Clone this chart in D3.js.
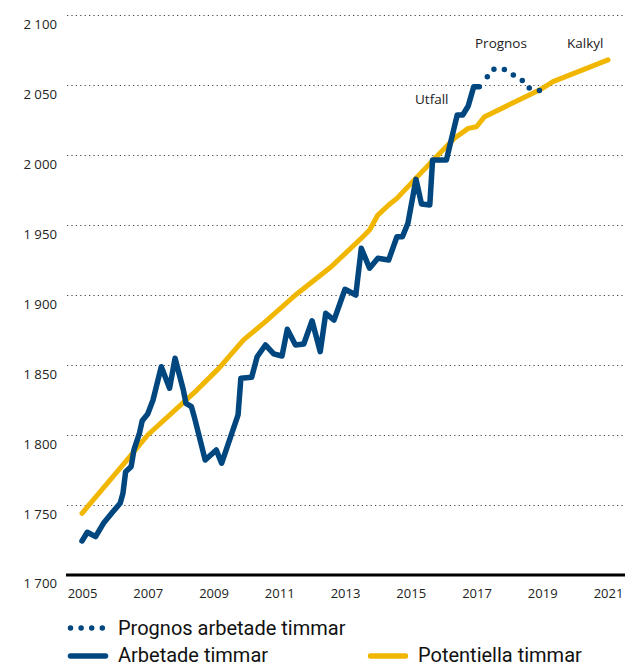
<!DOCTYPE html>
<html lang="sv">

<head>
    <meta charset="UTF-8">
    <title>arbetade-timmar</title>
    <script src="https://cdn.jsdelivr.net/npm/d3@7"></script>
</head>

<body style="margin:0; background:#fff;">
    <svg width="625" height="666" id="mainsvg" style="display:block;"></svg>
    <script>
        // --- data ---
        const arbetadeDatum = ["2005-01", "2005-03", "2005-06", "2005-09", "2005-12", "2006-03", "2006-04", "2006-05",
            "2006-07", "2006-08", "2006-10", "2006-11", "2007-01", "2007-03", "2007-06", "2007-09", "2007-11", "2008-02",
            "2008-03", "2008-05", "2008-06", "2008-10", "2009-02", "2009-04", "2009-10", "2009-11", "2010-03", "2010-05",
            "2010-08", "2010-11", "2011-02", "2011-04", "2011-07", "2011-10", "2012-01", "2012-04", "2012-06", "2012-09",
            "2013-01", "2013-05", "2013-07", "2013-10", "2014-01", "2014-05", "2014-08", "2014-10", "2014-12", "2015-03",
            "2015-05", "2015-08", "2015-09", "2016-02", "2016-06", "2016-08", "2016-10", "2016-12", "2017-02"]
        const arbetadeTimmar = [1724.3, 1730.5, 1727.4, 1737.4, 1744.5, 1751.2, 1758.4, 1773.8,
            1777.4, 1789.3, 1801.2, 1810.2, 1815.0, 1825.0, 1848.8, 1833.4, 1854.8, 1832.1,
            1822.6, 1820.2, 1813.1, 1782.1, 1789.3, 1779.8, 1814.3, 1840.5, 1841.2, 1855.9,
            1864.3, 1857.9, 1856.4, 1875.5, 1864.3, 1865.0, 1881.6, 1859.5, 1886.9, 1882.1,
            1904.1, 1900.0, 1933.4, 1919.1, 1926.2, 1925.0, 1941.6, 1941.6, 1951.2, 1982.6,
            1965.0, 1964.3, 1996.4, 1996.4, 2028.6, 2028.6, 2035.0, 2048.8, 2048.8]

        const prognosDatum = ["2017-05", "2017-07", "2017-11", "2018-06", "2018-08", "2018-12"]
        const prognosTimmar = [2055.9, 2061.3, 2061.3, 2053.0, 2048.0, 2046.0]

        const potentiellaDatum = ["2005-01", "2006-05", "2007-01", "2008-07", "2009-03", "2009-12", "2010-08", "2011-07",
            "2012-08", "2013-07", "2013-10", "2014-01", "2014-05", "2014-08", "2015-09", "2016-05", "2016-10", "2017-01",
            "2017-04", "2018-02", "2018-12", "2019-05", "2021-01"]
        const potentiellaTimmar = [1744.1, 1780.9, 1800.0, 1832.1, 1847.6, 1867.9, 1881.0, 1900.0,
            1920.2, 1940.5, 1946.4, 1957.1, 1964.3, 1969.0, 1996.0, 2011.9, 2019.0, 2020.2,
            2027.4, 2036.9, 2046.4, 2052.4, 2067.9]

        const yTicks = [1700, 1750, 1800, 1850, 1900, 1950, 2000, 2050, 2100]
        const xTickYears = [2005, 2007, 2009, 2011, 2013, 2015, 2017, 2019, 2021]

        const blue = '#00467f'
        const yellow = '#f1b600'

        const svg = d3.select('#mainsvg')
        const parse = d3.timeParse('%Y-%m')
        const zip = (dates, vals) => dates.map((d, i) => ({ date: parse(d), value: vals[i] }))

        const arbetade = zip(arbetadeDatum, arbetadeTimmar)
        const prognos = zip(prognosDatum, prognosTimmar)
        const potentiella = zip(potentiellaDatum, potentiellaTimmar)

        const xScale = d3.scaleTime()
            .domain([new Date(2005, 0, 1), new Date(2021, 0, 1)])
            .range([82, 608])
        const yScale = d3.scaleLinear()
            .domain([1700, 2100])
            .range([575, 15])

        const fmt = d3.formatLocale({ decimal: ',', thousands: '\u00a0', grouping: [3], currency: ['', ' kr'] }).format(',d')
        const numFont = '"Open Sans", Lato, sans-serif'

        // y axis with dotted grid lines
        const yAxis = d3.axisLeft(yScale).tickValues(yTicks.slice(1)).tickFormat(fmt)
            .tickSize(-(625 - 67)).tickPadding(10)
        const gy = svg.append('g').attr('transform', 'translate(67,0)').call(yAxis)
        gy.select('.domain').remove()
        gy.selectAll('.tick line').attr('stroke', '#444').attr('stroke-width', 1.1).attr('stroke-dasharray', '1.2,3.2')
        // bottom label 1 700 (no grid line, baseline instead)
        gy.append('g').attr('class', 'tick').attr('transform', `translate(0,${yScale(1700)})`)
            .append('text').attr('x', -10).text(fmt(1700))
        gy.selectAll('.tick text')
            .attr('fill', '#222').attr('font-size', 13.2).attr('font-family', numFont)
            .attr('text-anchor', 'end').attr('dy', '1.0em')

        // x axis labels
        const xAxis = d3.axisBottom(xScale).tickValues(xTickYears.map(y => new Date(y, 0, 1)))
            .tickFormat(d3.timeFormat('%Y')).tickSize(0).tickPadding(14)
        const gx = svg.append('g').attr('transform', `translate(0,${yScale(1700)})`).call(xAxis)
        gx.select('.domain').remove()
        gx.selectAll('.tick text')
            .attr('fill', '#222').attr('font-size', 13).attr('font-family', numFont)

        // baseline
        svg.append('line').attr('x1', 66).attr('x2', 625)
            .attr('y1', yScale(1700)).attr('y2', yScale(1700))
            .attr('stroke', '#000').attr('stroke-width', 3)

        const line = d3.line().x(d => xScale(d.date)).y(d => yScale(d.value))

        svg.append('path').datum(potentiella).attr('d', line)
            .attr('fill', 'none').attr('stroke', yellow).attr('stroke-width', 5)
            .attr('stroke-linecap', 'round').attr('stroke-linejoin', 'round')

        svg.append('path').datum(arbetade).attr('d', line)
            .attr('fill', 'none').attr('stroke', blue).attr('stroke-width', 5.5)
            .attr('stroke-linecap', 'round').attr('stroke-linejoin', 'round')

        // dotted forecast: spread the dots so one sits at each end
        const prog = svg.append('path').datum(prognos).attr('d', line)
            .attr('fill', 'none').attr('stroke', blue).attr('stroke-width', 5.5)
            .attr('stroke-linecap', 'round')
        const len = prog.node().getTotalLength()
        const step = len / Math.round(len / 10.6)
        prog.attr('stroke-dasharray', `0,${step}`)

        // annotations
        const note = (x, y, t) => svg.append('text').attr('x', x).attr('y', y).text(t)
            .attr('fill', '#222').attr('font-size', 13.5).attr('font-family', '"Open Sans", sans-serif')
        note(415, 104, 'Utfall')
        note(475, 48, 'Prognos')
        note(567, 48, 'Kalkyl')

        // legend
        const lg = svg.append('g').attr('font-family', 'Roboto, sans-serif').attr('font-size', 20).attr('fill', '#111')
        lg.append('path').attr('d', 'M70.5,628 H102.3').attr('stroke', blue).attr('stroke-width', 5.5)
            .attr('stroke-linecap', 'round').attr('stroke-dasharray', '0,10.6')
        lg.append('text').attr('x', 118).attr('y', 634.5).text('Prognos arbetade timmar')
        lg.append('line').attr('x1', 70.5).attr('x2', 105.5).attr('y1', 656).attr('y2', 656)
            .attr('stroke', blue).attr('stroke-width', 5.5).attr('stroke-linecap', 'round')
        lg.append('text').attr('x', 118).attr('y', 662).text('Arbetade timmar')
        lg.append('line').attr('x1', 370.5).attr('x2', 405.5).attr('y1', 656).attr('y2', 656)
            .attr('stroke', yellow).attr('stroke-width', 5.5).attr('stroke-linecap', 'round')
        lg.append('text').attr('x', 418).attr('y', 662).text('Potentiella timmar')
    </script>
</body>

</html>
